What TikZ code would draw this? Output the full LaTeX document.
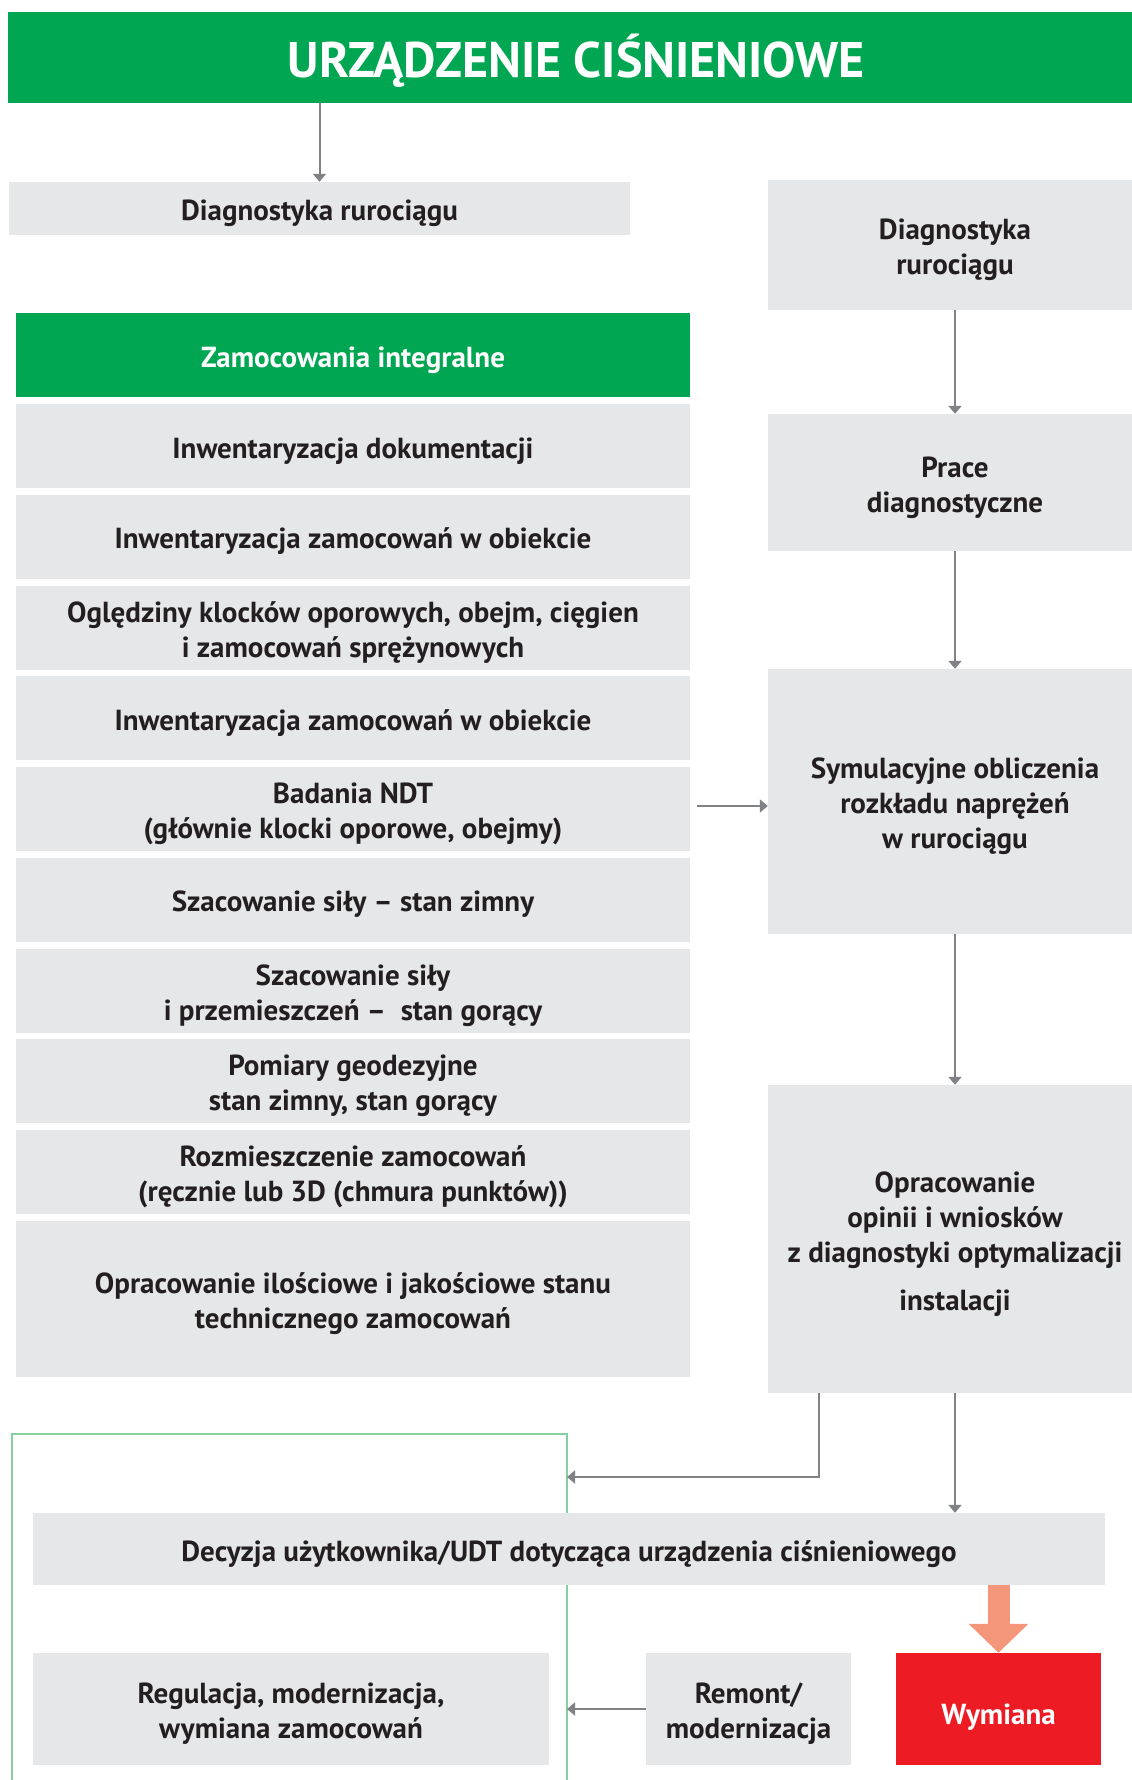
\documentclass[tikz,border=0pt]{standalone}
\usepackage{fontspec}
\setmainfont{PT Sans}
\usetikzlibrary{arrows.meta,calc}
\definecolor{boxgray}{HTML}{E6E7E8}
\definecolor{mygreen}{HTML}{00A651}
\definecolor{framegreen}{HTML}{86CFA0}
\definecolor{arrgray}{HTML}{808285}
\definecolor{txt}{HTML}{231F20}
\definecolor{orangearr}{HTML}{F4967A}
\definecolor{redbox}{HTML}{ED1C24}
\newcommand\tx[2][5pt]{\raisebox{-#1}[\height][\depth]{\begin{tabular}{@{}c@{}}#2\end{tabular}}}
\tikzset{
  sz/.style 2 args={minimum width=#1pt, minimum height=#2pt},
  box/.style={fill=boxgray, inner sep=0pt, align=center, text=txt,
    font=\fontsize{29}{35}\selectfont\bfseries},
  greenbox/.style={box, fill=mygreen, text=white},
  redfill/.style={box, fill=redbox, text=white},
  arr/.style={draw=arrgray, line width=2pt, -{Triangle[width=13pt,length=8pt]}},
  frameline/.style={draw=framegreen, line width=2.5pt},
  bigarrow/.style={draw=orangearr, line width=22pt, -{Triangle[width=58pt,length=29pt]}},
}
\begin{document}
\begin{tikzpicture}[x=1pt,y=-1pt]
\useasboundingbox (0,0) rectangle (1132,1780);
% frame (behind boxes)
\draw[frameline] (12,1800) -- (12,1434) -- (567,1434) -- (567,1800);
\coordinate (frameR) at (567,1477);
% title
\node[greenbox, sz={1124}{91}, text height=40pt, text depth=0pt,
  font=\fontsize{50}{56}\selectfont\bfseries] (title) at (570,57) {\hspace*{12pt}URZĄDZENIE CIŚNIENIOWE};
% left top
\node[box, sz={621}{53}] (diagL) at (319.5,208.5) {\tx{Diagnostyka rurociągu}};
% right column
\node[box, sz={374}{130}] (diagR) at (955,245) {\tx{Diagnostyka\\rurociągu}};
\node[box, sz={374}{137}] (prace) at (955,482.5) {\tx{Prace\\diagnostyczne}};
\node[box, sz={374}{265}] (symul) at (955,801.5) {\tx{Symulacyjne obliczenia\\rozkładu naprężeń\\w rurociągu}};
\node[box, sz={374}{308}] (oprac) at (955,1239) {\tx{Opracowanie\\opinii i wniosków\\z diagnostyki optymalizacji\\[13pt]instalacji}};
% left list
\node[greenbox, sz={674}{84}] (zam) at (353,355) {\tx{Zamocowania integralne}};
\node[box, sz={674}{84}] (l1) at (353,446) {\tx{Inwentaryzacja dokumentacji}};
\node[box, sz={674}{84}] (l2) at (353,536.75) {\tx{Inwentaryzacja zamocowań w obiekcie}};
\node[box, sz={674}{84}] (l3) at (353,627.5) {\tx{Oględziny klocków oporowych, obejm, cięgien\\i zamocowań sprężynowych}};
\node[box, sz={674}{84}] (l4) at (353,718.25) {\tx{Inwentaryzacja zamocowań w obiekcie}};
\node[box, sz={674}{84}] (l5) at (353,809) {\tx{Badania NDT\\(głównie klocki oporowe, obejmy)}};
\node[box, sz={674}{84}] (l6) at (353,899.75) {\tx{Szacowanie siły – stan zimny}};
\node[box, sz={674}{84}] (l7) at (353,990.5) {\tx{Szacowanie siły\\i przemieszczeń –\ \ stan gorący}};
\node[box, sz={674}{84}] (l8) at (353,1081.25) {\tx{Pomiary geodezyjne\\stan zimny, stan gorący}};
\node[box, sz={674}{84}] (l9) at (353,1172) {\tx{Rozmieszczenie zamocowań\\(ręcznie lub 3D (chmura punktów))}};
\node[box, sz={674}{156}] (l10) at (353,1299) {\tx{Opracowanie ilościowe i jakościowe stanu\\technicznego zamocowań}};
% bottom
\node[box, sz={1072}{72}] (dec) at (569,1549) {\tx{Decyzja użytkownika/UDT dotycząca urządzenia ciśnieniowego}};
\node[box, sz={516}{112}] (reg) at (291,1709) {\tx{Regulacja, modernizacja,\\wymiana zamocowań}};
\node[box, sz={205}{112}] (rem) at (748.5,1709) {\tx{Remont/\\modernizacja}};
\node[redfill, sz={205}{112}] (wym) at (998.5,1709) {\tx[8pt]{Wymiana}};
% connectors
\draw[arr] (title.south -| diagL.north) -- (diagL.north);
\draw[arr] (diagR) -- (prace);
\draw[arr] (prace) -- (symul);
\draw[arr] (symul) -- (oprac);
\coordinate (ndtout) at (697,806);
\draw[arr] (ndtout) -- (ndtout -| symul.west);
\coordinate (o1) at (819,1393);
\draw[arr, line width=2.8pt] (o1) |- (frameR);
\draw[arr] (oprac.south) -- (dec.north -| oprac.south);
\draw[bigarrow] (dec.south -| wym.north) -- (wym.north);
\draw[arr, line width=2.8pt] (rem.west) -- (rem.west -| frameR);
\end{tikzpicture}
\end{document}
